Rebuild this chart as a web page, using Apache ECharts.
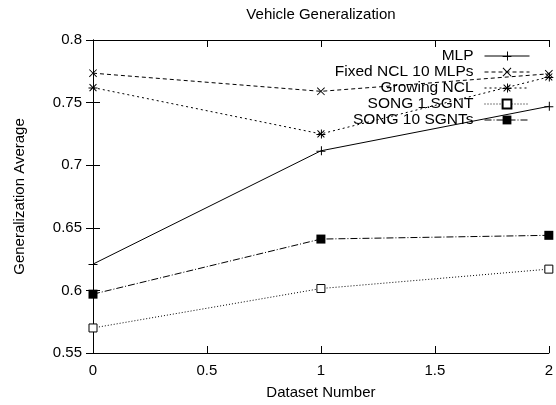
<!DOCTYPE html>
<html>
<head>
<meta charset="utf-8">
<title>Vehicle Generalization</title>
<script src="https://cdn.jsdelivr.net/npm/echarts@6/dist/echarts.min.js"></script>
<style>
  html, body { margin: 0; padding: 0; background: #fff; }
  #main { width: 556px; height: 405px; }
</style>
</head>
<body>
<div id="main"></div>
<script>
  // values
  var datasets = [0, 1, 2];
  var mlp = [0.621, 0.7115, 0.747];
  var fixedNcl = [0.7735, 0.759, 0.773];
  var growingNcl = [0.762, 0.725, 0.7705];
  var song1 = [0.570, 0.6015, 0.617];
  var song10 = [0.597, 0.641, 0.644];
  var seriesNames = ['MLP', 'Fixed NCL 10 MLPs', 'Growing NCL', 'SONG 1.SGNT', 'SONG 10 SGNTs'];

  var chart = echarts.init(document.getElementById('main'));
  var FONT = 'Liberation Sans, Arial, Helvetica, sans-serif';
  var FS = 15;

  // gnuplot point types
  var plusPath = 'path://M0,4.5H9V5.5H0Z M4.5,0H5.5V9H4.5Z';
  var crossPath = 'path://M0.7,0L9,8.3L8.3,9L0,0.7Z M8.3,0L9,0.7L0.7,9L0,8.3Z';
  var starPath = 'path://M0,4.5H9V5.5H0Z M4.5,0H5.5V9H4.5Z M1.4,0.7L8.3,7.6L7.6,8.3L0.7,1.4Z M7.6,0.7L8.3,1.4L1.4,8.3L0.7,7.6Z';

  function pairs(vals) {
    return datasets.map(function (x, i) { return [x, vals[i]]; });
  }

  function line(name, vals, dash, symbol, size, item) {
    return {
      name: name,
      type: 'line',
      data: pairs(vals),
      symbol: symbol,
      symbolSize: size,
      showAllSymbol: true,
      animation: false,
      lineStyle: { color: '#000', width: 1, type: dash },
      itemStyle: item || { color: '#000' },
      emphasis: { disabled: true }
    };
  }

  var axisCommon = {
    type: 'value',
    axisLine: { show: true, lineStyle: { color: '#000', width: 1 } },
    axisTick: { show: true, inside: true, length: 7, lineStyle: { color: '#000' } },
    splitLine: { show: false }
  };

  var option = {
    backgroundColor: '#fff',
    title: {
      text: 'Vehicle Generalization',
      left: 321,
      textAlign: 'center',
      top: 7,
      padding: 0,
      textStyle: { fontFamily: FONT, fontSize: FS, fontWeight: 'normal', color: '#000' }
    },
    legend: {
      data: seriesNames,
      orient: 'vertical',
      right: 26,
      top: 48,
      padding: 0,
      align: 'right',
      itemWidth: 45,
      itemHeight: 11,
      itemGap: 0,
      lineStyle: { width: 1 },
      textStyle: { fontFamily: FONT, fontSize: 15.5, color: '#000', padding: [0, 6, 0, 0], lineHeight: 16 },
      selectedMode: false
    },
    grid: { left: 93, right: 7, top: 40, bottom: 51, containLabel: false },
    xAxis: [
      Object.assign({}, axisCommon, {
        min: 0, max: 2, interval: 0.5,
        name: 'Dataset Number',
        nameLocation: 'middle',
        nameGap: 32,
        nameTextStyle: { fontFamily: FONT, fontSize: FS, color: '#000' },
        axisLabel: { fontFamily: FONT, fontSize: FS, color: '#000', margin: 10 }
      }),
      Object.assign({}, axisCommon, {
        position: 'top', min: 0, max: 2, interval: 0.5,
        axisLabel: { show: false }
      })
    ],
    yAxis: [
      Object.assign({}, axisCommon, {
        min: 0.55, max: 0.8, interval: 0.05,
        name: 'Generalization Average',
        nameLocation: 'middle',
        nameGap: 66,
        nameTextStyle: { fontFamily: FONT, fontSize: FS, color: '#000' },
        axisLabel: { fontFamily: FONT, fontSize: FS, color: '#000', margin: 11 }
      }),
      Object.assign({}, axisCommon, {
        position: 'right', min: 0.55, max: 0.8, interval: 0.05,
        axisLabel: { show: false }
      })
    ],
    series: [
      line(seriesNames[0], mlp, 'solid', plusPath, 9),
      line(seriesNames[1], fixedNcl, [4, 3], crossPath, 8),
      line(seriesNames[2], growingNcl, [2, 3], starPath, 9),
      line(seriesNames[3], song1, [1, 2], 'rect', 8, { color: '#fff', borderColor: '#000', borderWidth: 1 }),
      line(seriesNames[4], song10, [7, 2, 1, 2], 'rect', 9, { color: '#000' })
    ]
  };

  chart.setOption(option);
</script>
</body>
</html>
